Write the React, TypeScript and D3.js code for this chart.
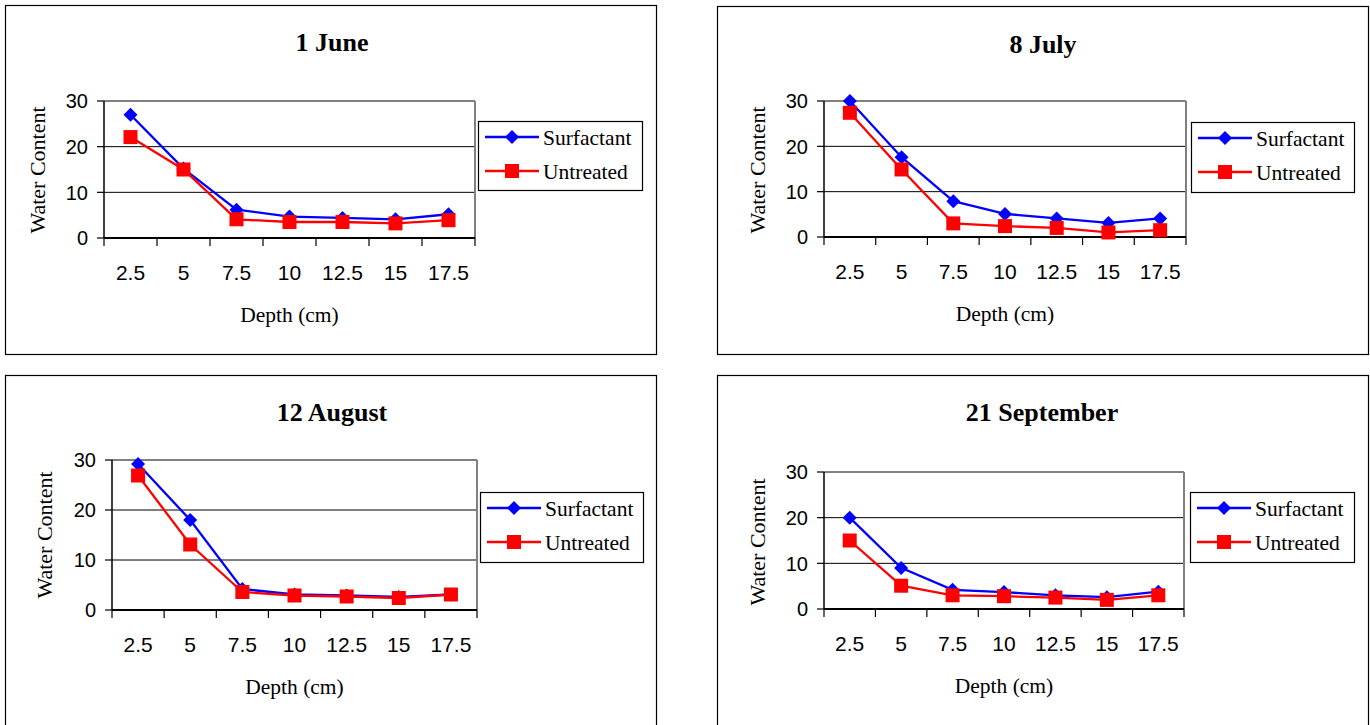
import React from "react";
import * as d3 from "d3";

// ---------- DATA ----------
const DEPTHS = ["2.5", "5", "7.5", "10", "12.5", "15", "17.5"];
const Y_TICKS = [0, 10, 20, 30];
const SERIES_NAMES = ["Surfactant", "Untreated"];
const TITLES = ["1 June", "8 July", "12 August", "21 September"];
const X_TITLE = "Depth (cm)";
const Y_TITLE = "Water Content";

const JUNE_SURFACTANT = [27, 15.2, 6.2, 4.7, 4.4, 4.1, 5.2];
const JUNE_UNTREATED = [22.1, 15, 4.1, 3.5, 3.5, 3.2, 3.9];
const JULY_SURFACTANT = [30, 17.6, 7.9, 5.1, 4.1, 3.1, 4.1];
const JULY_UNTREATED = [27.4, 14.9, 3, 2.4, 2, 1, 1.5];
const AUGUST_SURFACTANT = [29.2, 18, 4.2, 3.1, 2.9, 2.6, 3.1];
const AUGUST_UNTREATED = [26.9, 13.1, 3.6, 2.9, 2.7, 2.4, 3.1];
const SEPTEMBER_SURFACTANT = [20, 9, 4.2, 3.7, 3, 2.6, 3.8];
const SEPTEMBER_UNTREATED = [15, 5.1, 3, 2.8, 2.5, 2, 3];

const DATA = [
  [JUNE_SURFACTANT, JUNE_UNTREATED],
  [JULY_SURFACTANT, JULY_UNTREATED],
  [AUGUST_SURFACTANT, AUGUST_UNTREATED],
  [SEPTEMBER_SURFACTANT, SEPTEMBER_UNTREATED],
];

// ---------- LAYOUT ----------
const LAYOUT = [
  { frame: [5, 5, 651, 349], plot: [104, 475, 101, 238], titleX: 332, titleY: 51, ylabX: 45, ylabY: 170, legend: [478, 121, 164, 69] },
  { frame: [717, 6, 651, 348], plot: [824, 1186, 101, 237], titleX: 1043, titleY: 53, ylabX: 765, ylabY: 170, legend: [1191, 122, 163, 70] },
  { frame: [5, 375, 651, 400], plot: [112, 477, 460, 610], titleX: 332, titleY: 421, ylabX: 52, ylabY: 535, legend: [480, 492, 163, 70] },
  { frame: [717, 375, 651, 400], plot: [824, 1184, 472, 609], titleX: 1042, titleY: 421, ylabX: 765, ylabY: 542, legend: [1190, 492, 164, 70] },
];

const COLORS = ["#0000FF", "#FF0000"];
const SERIF = "'Liberation Serif', 'Times New Roman', serif";
const SANS = "'Liberation Sans', Arial, sans-serif";

function Marker({ kind, x, y, color }: { kind: number; x: number; y: number; color: string }) {
  if (kind === 0) {
    const r = 7;
    return <path d={`M${x},${y - r}L${x + r},${y}L${x},${y + r}L${x - r},${y}Z`} fill={color} />;
  }
  const s = 14;
  return <rect x={x - s / 2} y={y - s / 2} width={s} height={s} fill={color} />;
}

function Panel({ idx }: { idx: number }) {
  const L = LAYOUT[idx];
  const [pl, pr, pt, pb] = L.plot;
  const x = d3.scaleBand<string>().domain(DEPTHS).range([pl, pr]).padding(0);
  const y = d3.scaleLinear().domain([0, 30]).range([pb, pt]);
  const cx = (d: string) => (x(d) as number) + x.bandwidth() / 2;
  const line = d3
    .line<number>()
    .x((_, i) => cx(DEPTHS[i]))
    .y((v) => y(v));
  const [fx, fy, fw, fh] = L.frame;
  const [lx, ly, lw, lh] = L.legend;
  const bounds = DEPTHS.map((d) => x(d) as number).concat([pr]);
  return (
    <g>
      <rect x={fx + 0.5} y={fy + 0.5} width={fw} height={fh} fill="#fff" stroke="#000" strokeWidth={1.2} />
      <text x={L.titleX} y={L.titleY} textAnchor="middle" fontFamily={SERIF} fontWeight="bold" fontSize={26}>
        {TITLES[idx]}
      </text>
      {Y_TICKS.filter((t) => t > 0 && t < 30).map((t) => (
        <line key={t} x1={pl} x2={pr} y1={y(t)} y2={y(t)} stroke="#000" strokeWidth={1} />
      ))}
      <line x1={pl} x2={pr} y1={pt} y2={pt} stroke="#808080" strokeWidth={2} />
      <line x1={pr} x2={pr} y1={pt} y2={pb} stroke="#808080" strokeWidth={2} />
      <line x1={pl} x2={pl} y1={pt} y2={pb} stroke="#000" strokeWidth={1.5} />
      {Y_TICKS.map((t) => (
        <g key={t}>
          <line x1={pl - 7} x2={pl} y1={y(t)} y2={y(t)} stroke="#000" strokeWidth={1.2} />
          <text x={pl - 16} y={y(t)} dy="0.36em" textAnchor="end" fontFamily={SANS} fontSize={20}>
            {t}
          </text>
        </g>
      ))}
      <line x1={pl} x2={pr} y1={pb} y2={pb} stroke="#000" strokeWidth={2} />
      {bounds.map((b, i) => (
        <line key={i} x1={b} x2={b} y1={pb} y2={pb + 8} stroke="#000" strokeWidth={1.2} />
      ))}
      {DEPTHS.map((d) => (
        <text key={d} x={cx(d)} y={pb + 42} textAnchor="middle" fontFamily={SANS} fontSize={21}>
          {d}
        </text>
      ))}
      <text x={(pl + pr) / 2} y={pb + 84} textAnchor="middle" fontFamily={SERIF} fontSize={21.5}>
        {X_TITLE}
      </text>
      <text
        transform={`translate(${L.ylabX},${L.ylabY}) rotate(-90)`}
        textAnchor="middle"
        fontFamily={SERIF}
        fontSize={22}
      >
        {Y_TITLE}
      </text>
      {DATA[idx].map((vals, s) => (
        <g key={s}>
          <path d={line(vals) || ""} fill="none" stroke={COLORS[s]} strokeWidth={2.3} />
          {vals.map((v, i) => (
            <Marker key={i} kind={s} x={cx(DEPTHS[i])} y={y(v)} color={COLORS[s]} />
          ))}
        </g>
      ))}
      <rect x={lx + 0.5} y={ly + 0.5} width={lw} height={lh} fill="#fff" stroke="#000" strokeWidth={1.2} />
      {SERIES_NAMES.map((n, s) => {
        const ry = ly + 16 + s * 34;
        return (
          <g key={n}>
            <line x1={lx + 7} x2={lx + 61} y1={ry} y2={ry} stroke={COLORS[s]} strokeWidth={2.3} />
            <Marker kind={s} x={lx + 34} y={ry} color={COLORS[s]} />
            <text x={lx + 65} y={ry} dy="0.35em" fontFamily={SERIF} fontSize={21.5}>
              {n}
            </text>
          </g>
        );
      })}
    </g>
  );
}

export default function App() {
  return (
    <svg
      width={1370}
      height={725}
      style={{ position: "absolute", left: 0, top: 0, background: "#fff" }}
    >
      <rect x={0} y={0} width={1370} height={725} fill="#fff" />
      {LAYOUT.map((_, i) => (
        <Panel key={i} idx={i} />
      ))}
    </svg>
  );
}
